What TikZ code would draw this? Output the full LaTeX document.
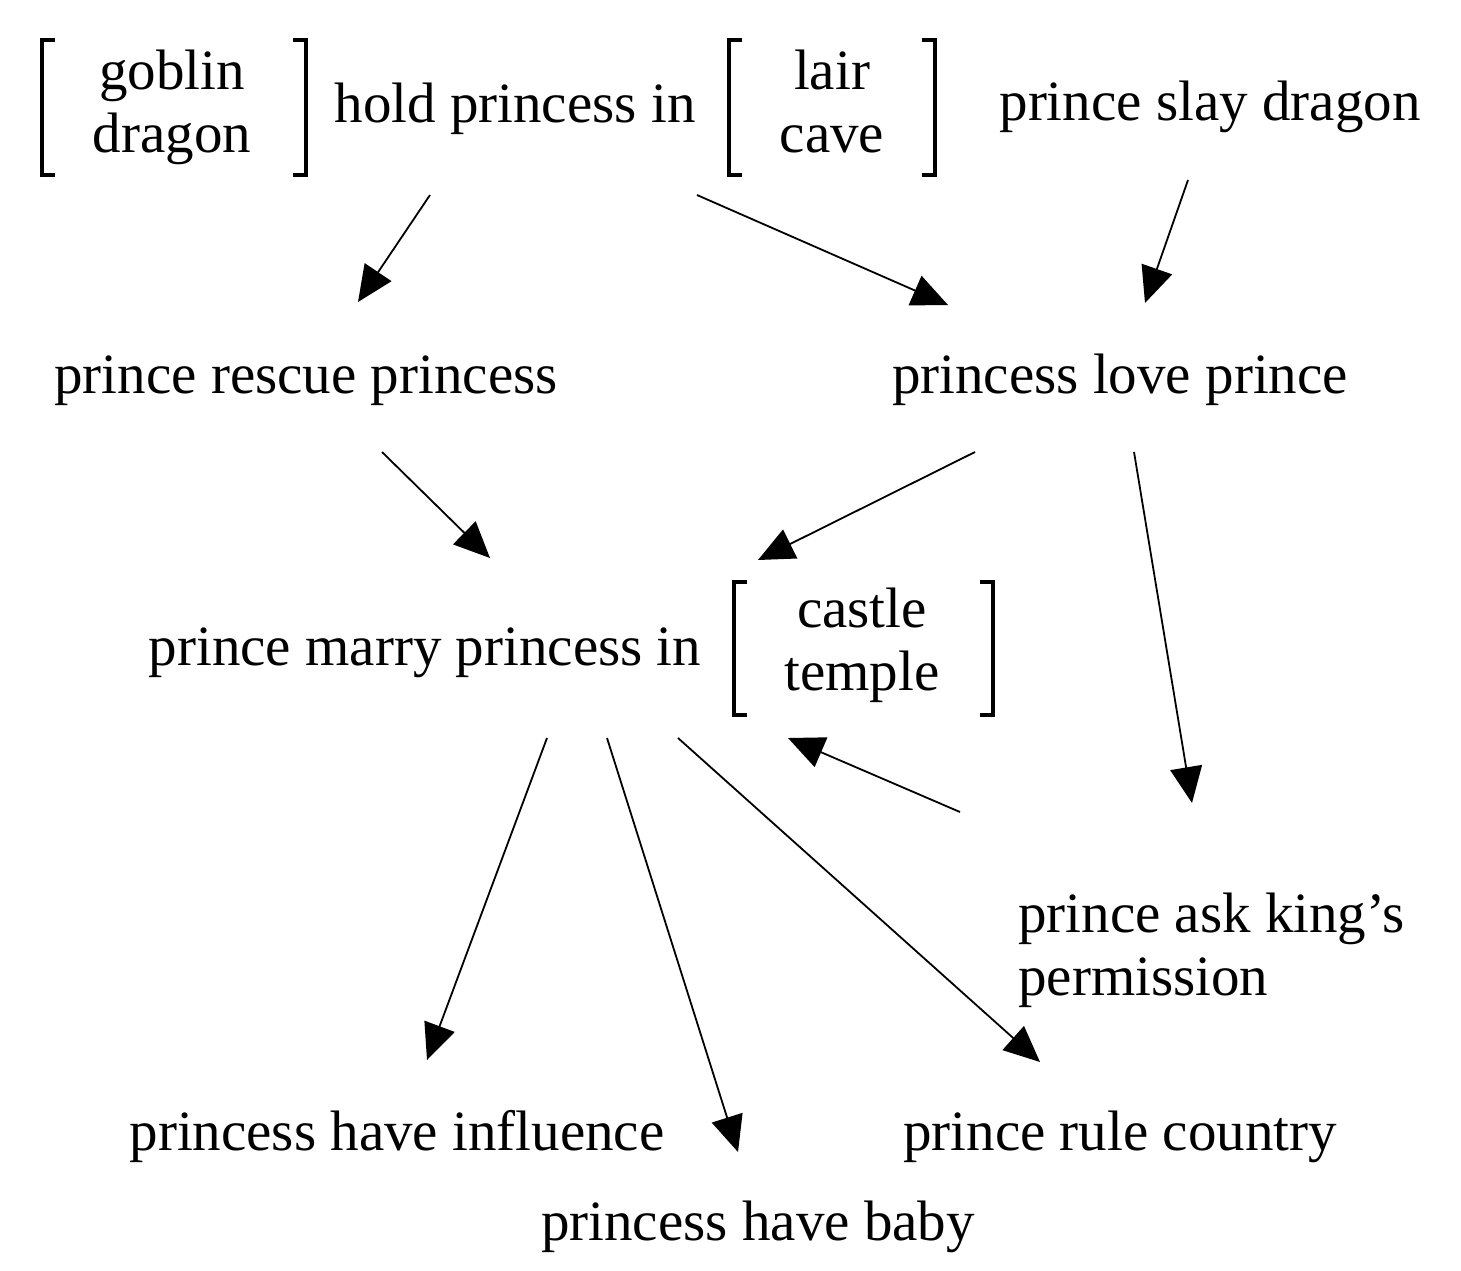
\documentclass[tikz,border=0pt]{standalone}
\usepackage{fontspec}
\setmainfont{Liberation Serif}
\usetikzlibrary{arrows.meta}
\begin{document}
\begin{tikzpicture}[x=1pt,y=-1pt,
  lbl/.style={inner sep=0pt,font=\fontsize{57}{63}\selectfont},
  stack/.style={lbl,align=center},
  brk/.style={line width=4pt,line cap=butt,line join=miter},
  arr/.style={line width=1.8pt,-{Triangle[length=36pt,width=32pt]}}]
\useasboundingbox (0,0) rectangle (1461,1270);
% text nodes
\node[stack,anchor=base] (gob) at (172,152) {goblin\\dragon};
\node[lbl,anchor=base] (hold) at (515,122) {hold princess in};
\node[stack,anchor=base] (lair) at (832,152) {lair\\cave};
\node[lbl,anchor=base] (slay) at (1210,120) {prince slay dragon};
\node[lbl,anchor=base] (rescue) at (306,393) {prince rescue princess};
\node[lbl,anchor=base] (love) at (1120,393) {princess love prince};
\node[lbl,anchor=base] (marry) at (425,665) {prince marry princess in};
\node[stack,anchor=base] (castle) at (862,690) {castle\\temple};
\node[lbl,anchor=base west,align=left] (ask) at (1018,995) {prince ask king’s\\permission};
\node[lbl,anchor=base] (infl) at (397,1150) {princess have influence};
\node[lbl,anchor=base] (rule) at (1120,1150) {prince rule country};
\node[lbl,anchor=base] (baby) at (758,1240) {princess have baby};
% brackets
\draw[brk] (55,40) -- (42,40) -- (42,175) -- (55,175);
\draw[brk] (293,40) -- (306,40) -- (306,175) -- (293,175);
\draw[brk] (742,40) -- (729,40) -- (729,175) -- (742,175);
\draw[brk] (922,40) -- (935,40) -- (935,175) -- (922,175);
\draw[brk] (747,582) -- (734,582) -- (734,715) -- (747,715);
\draw[brk] (980,582) -- (993,582) -- (993,715) -- (980,715);
% connector ends
\coordinate (holdA) at (430,195);
\coordinate (rescueIn) at (358,302);
\coordinate (holdB) at (697,195);
\coordinate (loveInA) at (948,305);
\coordinate (slayOut) at (1188,180);
\coordinate (loveInB) at (1145,303);
\coordinate (rescueOut) at (382,452);
\coordinate (marryInA) at (490,558);
\coordinate (loveOutA) at (975,452);
\coordinate (marryInB) at (758,560);
\coordinate (loveOutB) at (1134,452);
\coordinate (askIn) at (1192,803);
\coordinate (askOut) at (960,812);
\coordinate (castleIn) at (788,738);
\coordinate (marryOutA) at (547,738);
\coordinate (inflIn) at (427,1060);
\coordinate (marryOutB) at (607,738);
\coordinate (babyIn) at (738,1152);
\coordinate (marryOutC) at (678,738);
\coordinate (ruleIn) at (1040,1062);
% connectors
\draw[arr] (holdA) -- (rescueIn);
\draw[arr] (holdB) -- (loveInA);
\draw[arr] (slayOut) -- (loveInB);
\draw[arr] (rescueOut) -- (marryInA);
\draw[arr] (loveOutA) -- (marryInB);
\draw[arr] (loveOutB) -- (askIn);
\draw[arr] (askOut) -- (castleIn);
\draw[arr] (marryOutA) -- (inflIn);
\draw[arr] (marryOutB) -- (babyIn);
\draw[arr] (marryOutC) -- (ruleIn);
\end{tikzpicture}
\end{document}
